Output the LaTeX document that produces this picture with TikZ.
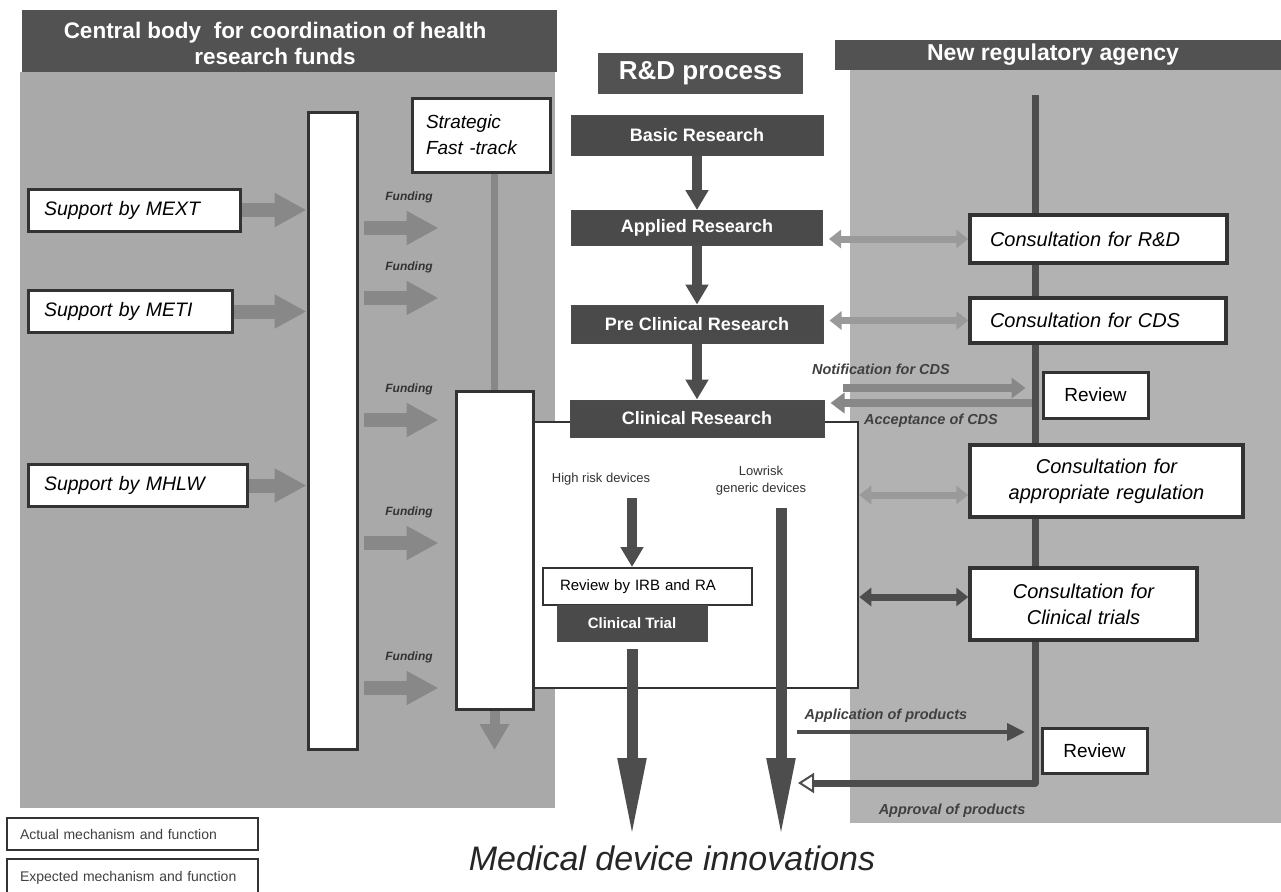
\documentclass[tikz,border=0pt]{standalone}
\usepackage{fontspec}
\setmainfont{Liberation Sans}
\usepackage{tikz}
\usetikzlibrary{arrows.meta}
\definecolor{panelleft}{HTML}{A9A9A9}
\definecolor{panelright}{HTML}{B2B2B2}
\definecolor{headgray}{HTML}{525252}
\definecolor{boxgray}{HTML}{4A4A4A}
\definecolor{arrowgray}{HTML}{888888}
\definecolor{lightarrow}{HTML}{9A9A9A}
\definecolor{darkline}{HTML}{4D4D4D}
\newcommand{\fsz}[2]{\fontsize{#1}{#2}\selectfont}
\tikzset{white box/.style={draw=black!80, fill=white, line width=3pt}}
\tikzset{support box/.style={white box, inner xsep=16pt, minimum height=42pt, align=left, font=\itshape\fsz{19.5}{22}}}
\tikzset{consult box/.style={white box, line width=3.5pt, font=\itshape\fsz{20}{26}}}
\tikzset{dark box/.style={draw=black!70, fill=boxgray, line width=1pt, text=white, font=\bfseries\fsz{18}{20}}}
\tikzset{head bar/.style={fill=headgray, text=white, inner sep=0pt}}
\tikzset{legend box/.style={draw=black!80, fill=white, line width=1.5pt, inner xsep=13pt, text width=225pt, align=left, text=black!75, font=\fsz{14}{17}}}
\tikzset{gray arrow/.style={draw=arrowgray, line width=14pt, -{Triangle[length=32pt, width=32pt]}}}
\tikzset{small gray arrow/.style={draw=arrowgray, line width=10pt, -{Triangle[length=26pt, width=28pt]}}}
\tikzset{dark arrow/.style={draw=darkline, line width=10pt, -{Triangle[length=20pt, width=22pt]}}}
\tikzset{long arrow/.style={draw=darkline, line width=11pt, -{Triangle[length=80pt, width=26pt]}}}
\tikzset{double arrow/.style={draw=lightarrow, line width=7pt, {Triangle[length=12pt, width=18pt]}-{Triangle[length=12pt, width=18pt]}}}
\tikzset{double dark arrow/.style={double arrow, draw=darkline}}
\tikzset{notice arrow/.style={draw=arrowgray, line width=8pt, -{Triangle[length=14pt, width=20pt]}}}
\tikzset{product arrow/.style={draw=darkline, line width=4pt, -{Triangle[length=18pt, width=17pt]}}}
\tikzset{reg line/.style={draw=darkline, line width=7pt, line join=round, -{Triangle[open, line width=2pt, length=16pt, width=20pt]}}}
\tikzset{fund label/.style={inner sep=0pt, text=black!80, font=\bfseries\itshape\fsz{12}{14}}}
\tikzset{flow label/.style={inner sep=0pt, text=black!75, font=\bfseries\itshape\fsz{14.5}{17}}}
\tikzset{small text/.style={inner sep=0pt, text=black!80, font=\fsz{13}{17}}}

\begin{document}
\begin{tikzpicture}[x=1pt, y=-1pt]
  \useasboundingbox (0,0) rectangle (1281,891);
  \clip (0,0) rectangle (1281,891);

  % panels and headings
  \fill[panelleft] (20,72) rectangle (555,808);
  \fill[panelright] (850,70) rectangle (1281,823);
  \node[head bar, minimum width=535pt, minimum height=62pt, align=center, font=\bfseries\fsz{22.5}{26}] (fundhead) at (289.5,41) {};
  \node[text=white, align=center, font=\bfseries\fsz{22.5}{26}, inner sep=0pt] (fundtitle) at (275,43) {Central body\ \ for coordination of health\\research funds};
  \node[head bar, minimum width=460pt, minimum height=30pt] (agencyhead) at (1065,55) {};
  \node[text=white, font=\bfseries\fsz{23}{26}, inner sep=0pt] (agencytitle) at (1053,55) {New regulatory agency};
  \node[head bar, minimum width=205pt, minimum height=41pt, font=\bfseries\fsz{26}{30}] (rdhead) at (700.5,73.5) {R\&D process};

  % line of the agency
  \coordinate (regtop) at (1035,95);
  \coordinate (regturn) at (1035,783);
  \coordinate (apprend) at (798,783);
  \draw[reg line] (regtop) -- (regturn) -- (apprend) node[flow label, pos=0.35, below=17pt] {Approval of products};

  % clinical area
  \node[white box, line width=2.5pt, minimum width=325pt, minimum height=266pt] (clinarea) at (695.5,555) {};

  % funds side
  \node[white box, minimum width=49pt, minimum height=637pt] (poolbar) at (332.5,430.5) {};
  \node[white box, text width=110pt, inner xsep=14pt, minimum height=74pt, align=left, font=\itshape\fsz{19}{26}] (strategic) at (481,135) {Strategic\\Fast -track};
  \draw[draw=arrowgray, line width=7pt] (strategic.south -| 494.5,0) -- (494.5,391);
  \node[white box, minimum width=77pt, minimum height=318pt] (fundbar) at (494.5,550) {};
  \node[support box, text width=180pt] (mext) at (134,210) {Support by MEXT};
  \node[support box, text width=172pt] (meti) at (130,311.5) {Support by METI};
  \node[support box, text width=187pt] (mhlw) at (137.5,485.5) {Support by MHLW};
  \draw[gray arrow] (mext.east) -- (mext.east -| poolbar.west);
  \draw[gray arrow] (meti.east) -- (meti.east -| poolbar.west);
  \draw[gray arrow] (mhlw.east) -- (mhlw.east -| poolbar.west);
  \foreach \y in {228,298,420,543,688}
    \draw[gray arrow] ([xshift=5pt]poolbar.east |- 0,\y) -- ([xshift=-16pt]fundbar.west |- 0,\y) node[fund label, midway, above=18pt, xshift=8pt] {Funding};
  \coordinate (fundout) at (494.5,750);
  \draw[small gray arrow] (fundbar.south) -- (fundout);

  % R&D process
  \node[dark box, minimum width=252pt, minimum height=40pt] (basic) at (697,135) {Basic Research};
  \node[dark box, minimum width=251pt, minimum height=35pt] (applied) at (697,228) {Applied Research};
  \node[dark box, minimum width=252pt, minimum height=38pt] (preclin) at (697,324) {Pre Clinical Research};
  \node[dark box, minimum width=254pt, minimum height=37pt] (clinical) at (697,418.5) {Clinical Research};
  \draw[dark arrow] (basic) -- (applied);
  \draw[dark arrow] (applied) -- (preclin);
  \draw[dark arrow] (preclin) -- (clinical);

  \node[small text] (highrisk) at (601,479) {High risk devices};
  \node[small text, align=center] (lowrisk) at (761,481) {Lowrisk\\generic devices};
  \node[white box, line width=2pt, text width=175pt, inner xsep=17pt, minimum height=37pt, align=left, font=\fsz{15}{18}] (irb) at (647.5,586.5) {Review by IRB and RA};
  \node[dark box, minimum width=150pt, minimum height=36pt, font=\bfseries\fsz{15}{18}] (trial) at (632,623) {Clinical Trial};
  \draw[dark arrow] ([yshift=-13pt]highrisk.south -| trial.north) -- (trial.north |- irb.north);

  \node[inner sep=0pt, anchor=base, font=\itshape\fsz{34}{40}, text=black!85] (innov) at (672,870) {Medical device innovations};
  \coordinate (lowtop) at (781,508);
  \draw[long arrow, shorten >=7pt] ([yshift=-7pt]trial.south) -- (trial.south |- innov.north);
  \draw[long arrow, shorten >=7pt] (lowtop) -- (lowtop |- innov.north);

  % agency side
  \node[consult box, text width=217pt, inner xsep=20pt, minimum height=48pt, align=left] (crd) at (1098.5,239) {Consultation for R\&D};
  \node[consult box, text width=216pt, inner xsep=20pt, minimum height=45pt, align=left] (ccds) at (1098,320.5) {Consultation for CDS};
  \node[consult box, line width=3pt, minimum width=105pt, minimum height=46pt, font=\fsz{19}{22}] (review1) at (1095.5,395) {Review};
  \node[consult box, text width=253pt, inner xsep=10pt, minimum height=72pt, align=center] (capp) at (1106.5,481) {Consultation for\\appropriate regulation};
  \node[consult box, text width=207pt, inner xsep=10pt, minimum height=72pt, align=center] (ctrial) at (1083.5,604) {Consultation for\\Clinical trials};
  \node[consult box, line width=3pt, minimum width=105pt, minimum height=45pt, font=\fsz{19}{22}] (review2) at (1094.5,750.5) {Review};

  \draw[double arrow] ([xshift=6pt]applied.east |- crd.west) -- (crd.west);
  \draw[double arrow] ([xshift=6pt]preclin.east |- ccds.west) -- (ccds.west);
  \draw[notice arrow] ([xshift=18pt]clinical.east |- 0,388) -- ([xshift=-16pt]review1.west |- 0,388) node[flow label, pos=0.21, above=9pt] {Notification for CDS};
  \draw[notice arrow] ([xshift=-10pt]review1.west |- 0,403) -- ([xshift=6pt]clinical.east |- 0,403) node[flow label, midway, below=7pt] {Acceptance of CDS};
  \draw[double arrow] (clinarea.east |- 0,495) -- (capp.west |- 0,495);
  \draw[double dark arrow] (clinarea.east |- 0,597) -- (ctrial.west |- 0,597);
  \coordinate (appstart) at (797,732);
  \draw[product arrow] (appstart) -- ([xshift=-10pt]appstart -| regtop) node[flow label, pos=0.39, above=8pt] {Application of products};

  % legend
  \node[legend box, minimum height=32pt] (actual) at (132.5,834) {Actual mechanism and function};
  \node[legend box, minimum height=38pt] (expected) at (132.5,878) {Expected mechanism and function};
\end{tikzpicture}
\end{document}
